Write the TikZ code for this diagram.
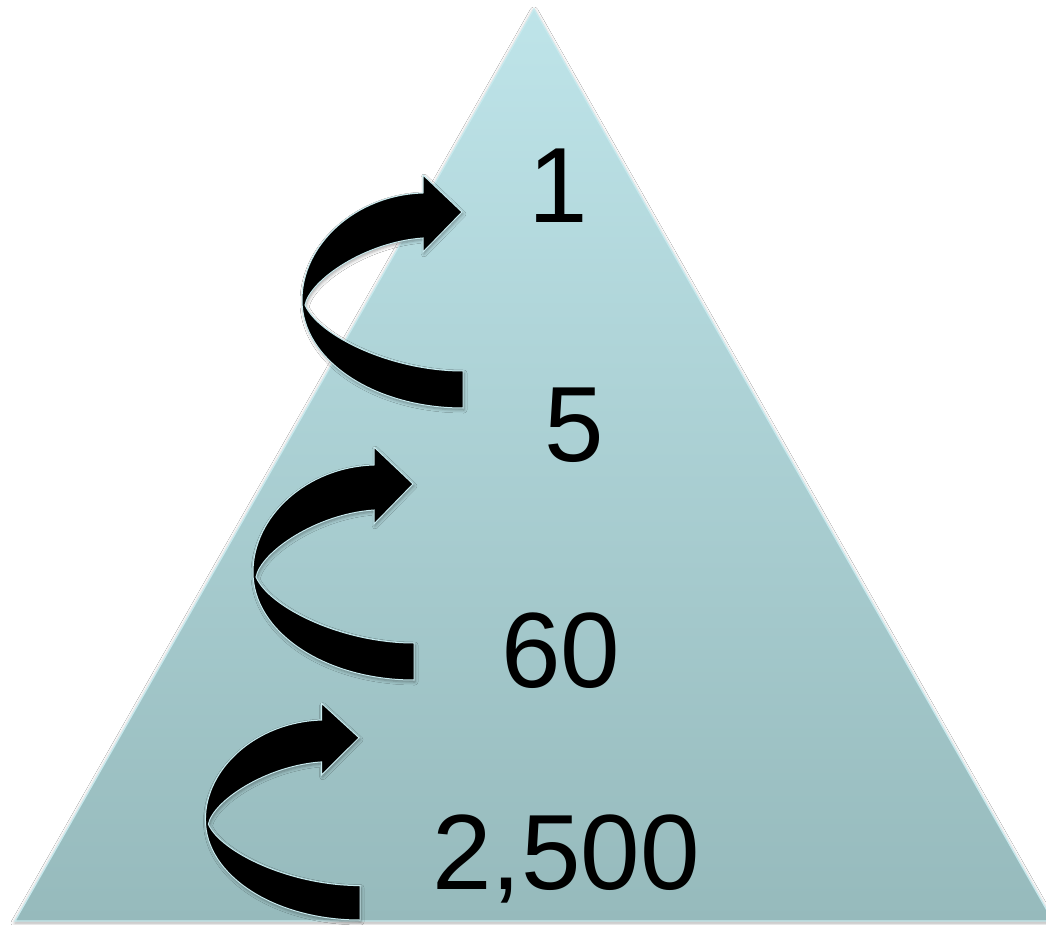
\documentclass[tikz,border=0pt]{standalone}
\usepackage{fontspec}
\setmainfont{Liberation Sans}
\usetikzlibrary{shadows.blur}
\definecolor{topc}{RGB}{190,228,233}
\definecolor{botc}{RGB}{150,186,188}
\definecolor{edgec}{RGB}{200,234,238}
\tikzset{
  pyr/.style={top color=topc, bottom color=botc, draw=edgec, line width=1.2pt,
    blur shadow={shadow xshift=0pt, shadow yshift=-2pt, shadow blur radius=4pt, shadow opacity=35}},
  curvarrow/.style={fill=black, draw=edgec, line width=1pt, line join=miter,
    blur shadow={shadow xshift=1pt, shadow yshift=-2pt, shadow blur radius=3pt, shadow opacity=35}},
  num/.style={anchor=base, inner sep=0pt, font=\fontsize{107}{107}\selectfont, text=black},
  curvedarr/.pic={
    \draw[curvarrow] (0,0) .. controls (-89,0) and (-161,-48) .. (-161,-108)
      .. controls (-161,-163) and (-108,-213) .. (-40,-215)
      -- (-40,-233) -- (-1,-196) -- (-40,-156) -- (-40,-170)
      .. controls (-98,-166) and (-153,-128) .. (-158,-103)
      .. controls (-145,-73) and (-73,-37) .. (0,-37) -- cycle;
  }
}
\begin{document}
\begin{tikzpicture}[x=1pt,y=-1pt]
\useasboundingbox (0,0) rectangle (1046,925);
\fill[white] (0,0) rectangle (1046,925);
\clip (0,0) rectangle (1046,925);
\coordinate (apex) at (534,9);
\coordinate (bl) at (15,921);
\coordinate (br) at (1053,921);
\path[pyr] (apex) -- (bl) -- (br) -- cycle;
\pic at (463,408) {curvedarr};
\pic at (414,680) {curvedarr};
\pic[xscale=0.96,yscale=0.93] at (360,920) {curvedarr};
\node[num] (n1) at (558,223) {1};
\node[num] (n5) at (574,461) {5};
\node[num] (n60) at (561,687) {60};
\node[num] (n2500) at (566,889) {2,500};
\end{tikzpicture}
\end{document}
